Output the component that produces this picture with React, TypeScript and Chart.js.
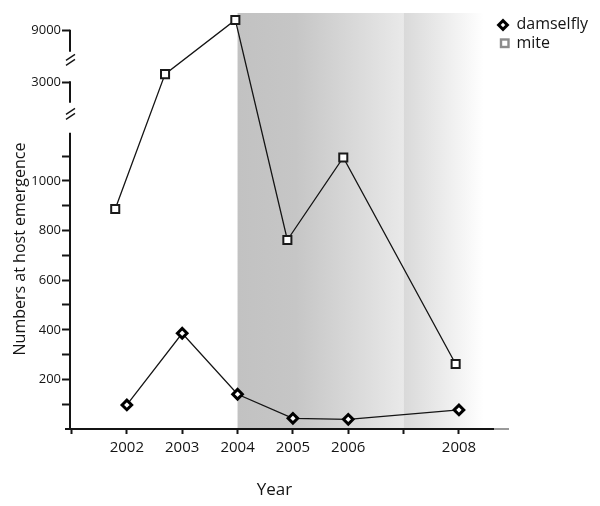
import React, { useEffect, useRef } from "react";
import { Chart, LinearScale, registerables } from "chart.js";

// ---- data ----
const DAMSELFLY_YEARS = [2002, 2003, 2004, 2005, 2006, 2008];
const DAMSELFLY_COUNTS = [97, 386, 140, 43, 39, 77];
const MITE_YEARS = [2001.79, 2002.69, 2003.96, 2004.9, 2005.91, 2007.94];
const MITE_COUNTS = [887, 3950, 10250, 762, 1095, 262];

const X_TICK_YEARS = [2001, 2002, 2003, 2004, 2005, 2006, 2007, 2008];
const X_TICK_LABELS = ["", "2002", "2003", "2004", "2005", "2006", "", "2008"];
const Y_TICK_VALUES = [100, 200, 300, 400, 500, 600, 700, 800, 900, 1000, 1100, 3000, 9000];
const Y_TICK_LABELS = ["", "200", "", "400", "", "600", "", "800", "", "1000", "", "3000", "9000"];

// broken y axis: value breakpoints and the share of plot height they reach
const Y_BREAK_VALUES = [0, 1200, 3000, 9000, 11060];
const Y_BREAK_FRACTIONS = [0, 0.7154, 0.8334, 0.9575, 1];
const Y_AXIS_SEGMENTS = [[0, 1190], [2290, 3000], [6670, 9000]];
const Y_BREAK_MARKS = [1840, 5600];

const X_MIN = 2000.973;
const X_MAX = 2008.904;
const SHADE_RANGES = [[2004, 2007], [2007, 2008.45]];
const SHADE_STOPS: [number, string][][] = [
  [[0, "#c2c2c2"], [0.35, "#c6c6c6"], [1, "#e9e9e9"]],
  [[0, "#d9d9d9"], [1, "#ffffff"]],
];

const FONT = "'Open Sans', sans-serif";
const INK = "#141414";

function valueToFraction(v: number): number {
  const n = Y_BREAK_VALUES.length;
  let i = 0;
  while (i < n - 2 && v > Y_BREAK_VALUES[i + 1]) i++;
  const v0 = Y_BREAK_VALUES[i], v1 = Y_BREAK_VALUES[i + 1];
  const f0 = Y_BREAK_FRACTIONS[i], f1 = Y_BREAK_FRACTIONS[i + 1];
  return f0 + ((v - v0) / (v1 - v0)) * (f1 - f0);
}
function fractionToValue(f: number): number {
  const n = Y_BREAK_FRACTIONS.length;
  let i = 0;
  while (i < n - 2 && f > Y_BREAK_FRACTIONS[i + 1]) i++;
  const v0 = Y_BREAK_VALUES[i], v1 = Y_BREAK_VALUES[i + 1];
  const f0 = Y_BREAK_FRACTIONS[i], f1 = Y_BREAK_FRACTIONS[i + 1];
  return v0 + ((f - f0) / (f1 - f0)) * (v1 - v0);
}

class BrokenLinearScale extends (LinearScale as any) {
  static id = "brokenLinear";
  static defaults = (LinearScale as any).defaults;
  determineDataLimits() {
    (this as any).min = Y_BREAK_VALUES[0];
    (this as any).max = Y_BREAK_VALUES[Y_BREAK_VALUES.length - 1];
  }
  buildTicks() {
    (this as any).start = (this as any).min;
    (this as any).end = (this as any).max;
    return Y_TICK_VALUES.map((v) => ({ value: v }));
  }
  getPixelForValue(value: number) {
    if (value === null || value === undefined) return NaN;
    return (this as any).getPixelForDecimal(valueToFraction(value));
  }
  getValueForPixel(pixel: number) {
    return fractionToValue((this as any).getDecimalForPixel(pixel));
  }
}

Chart.register(...registerables, BrokenLinearScale as any);

const decorPlugin = {
  id: "decor",
  beforeDraw(chart: any) {
    const { ctx, chartArea, scales } = chart;
    const xs = scales.x;
    ctx.save();
    SHADE_RANGES.forEach(([a, b], i) => {
      const x0 = xs.getPixelForValue(a);
      const x1 = xs.getPixelForValue(b);
      const g = ctx.createLinearGradient(x0, 0, x1, 0);
      SHADE_STOPS[i].forEach(([o, c]) => g.addColorStop(o, c));
      ctx.fillStyle = g;
      ctx.fillRect(x0, chartArea.top, x1 - x0, chartArea.bottom - chartArea.top);
    });
    ctx.restore();
  },
  beforeDatasetsDraw(chart: any) {
    const { ctx, chartArea, scales } = chart;
    const ys = scales.y;
    const left = chartArea.left;
    ctx.save();
    ctx.strokeStyle = INK;
    ctx.lineWidth = 2;
    Y_AXIS_SEGMENTS.forEach(([a, b]) => {
      ctx.beginPath();
      ctx.moveTo(left, ys.getPixelForValue(a) + 1);
      ctx.lineTo(left, ys.getPixelForValue(b) - 1);
      ctx.stroke();
    });
    ctx.lineWidth = 1.4;
    Y_BREAK_MARKS.forEach((v) => {
      const y = ys.getPixelForValue(v);
      [-2.5, 2.5].forEach((d) => {
        ctx.beginPath();
        ctx.moveTo(left - 4, y + d + 3);
        ctx.lineTo(left + 5, y + d - 3);
        ctx.stroke();
      });
    });
    ctx.lineWidth = 2;
    const yb = chartArea.bottom;
    ctx.beginPath();
    ctx.moveTo(left - 5, yb);
    ctx.lineTo(chartArea.right - 15, yb);
    ctx.stroke();
    ctx.strokeStyle = "#9a9a9a";
    ctx.beginPath();
    ctx.moveTo(chartArea.right - 15, yb);
    ctx.lineTo(chartArea.right, yb);
    ctx.stroke();
    ctx.restore();
  },
  afterDraw(chart: any) {
    const { ctx } = chart;
    ctx.save();
    ctx.fillStyle = INK;
    ctx.font = `16px ${FONT}`;
    ctx.textAlign = "center";
    ctx.textBaseline = "middle";
    ctx.save();
    ctx.translate(20, 249);
    ctx.rotate(-Math.PI / 2);
    ctx.fillText("Numbers at host emergence", 0, 0);
    ctx.restore();
    ctx.font = `17px ${FONT}`;
    ctx.fillText("Year", 274.5, 490);

    // legend
    const dx = 503, dy = 25;
    ctx.fillStyle = "#000";
    ctx.beginPath();
    ctx.moveTo(dx - 6.5, dy);
    ctx.lineTo(dx, dy - 6.5);
    ctx.lineTo(dx + 6.5, dy);
    ctx.lineTo(dx, dy + 6.5);
    ctx.closePath();
    ctx.fill();
    ctx.fillStyle = "#fff";
    ctx.beginPath();
    ctx.moveTo(dx - 2.3, dy);
    ctx.lineTo(dx, dy - 2.3);
    ctx.lineTo(dx + 2.3, dy);
    ctx.lineTo(dx, dy + 2.3);
    ctx.closePath();
    ctx.fill();

    ctx.fillStyle = "#fff";
    ctx.fillRect(501, 39.5, 7.5, 7.5);
    ctx.strokeStyle = "#8c8c8c";
    ctx.lineWidth = 2.4;
    ctx.strokeRect(501, 39.5, 7.5, 7.5);

    ctx.fillStyle = INK;
    ctx.font = `16px ${FONT}`;
    ctx.textAlign = "left";
    ctx.textBaseline = "middle";
    ctx.fillText("damselfly", 516.5, 24);
    ctx.fillText("mite", 516.5, 43);
    ctx.restore();
  },
};

export default function App() {
  const ref = useRef<HTMLCanvasElement>(null);
  useEffect(() => {
    document.body.style.margin = "0";
    const canvas = ref.current!;
    const chart = new Chart(canvas, {
      type: "line",
      data: {
        datasets: [
          {
            label: "damselfly",
            data: DAMSELFLY_YEARS.map((x, i) => ({ x, y: DAMSELFLY_COUNTS[i] })),
            borderColor: INK,
            borderWidth: 1.3,
            pointStyle: "rectRot",
            pointRadius: 4.8,
            pointBorderWidth: 3,
            pointBorderColor: "#000",
            pointBackgroundColor: "#fff",
            tension: 0,
            clip: false,
          },
          {
            label: "mite",
            data: MITE_YEARS.map((x, i) => ({ x, y: MITE_COUNTS[i] })),
            borderColor: INK,
            borderWidth: 1.3,
            pointStyle: "rect",
            pointRadius: 5.7,
            pointBorderWidth: 2,
            pointBorderColor: "#1a1a1a",
            pointBackgroundColor: "#fff",
            tension: 0,
            clip: false,
          },
        ],
      } as any,
      options: {
        responsive: false,
        animation: false,
        events: [],
        layout: { padding: { top: 13, right: 91, bottom: 0, left: 0 } },
        plugins: {
          legend: { display: false },
          tooltip: { enabled: false },
          title: { display: false },
        },
        scales: {
          x: {
            type: "linear",
            min: X_MIN,
            max: X_MAX,
            afterFit: (s: any) => {
              s.height = 77;
            },
            afterBuildTicks: (s: any) => {
              s.ticks = X_TICK_YEARS.map((v) => ({ value: v }));
            },
            border: { display: false },
            grid: {
              drawOnChartArea: false,
              drawTicks: true,
              tickLength: 5,
              tickWidth: 2,
              tickColor: INK,
            },
            ticks: {
              padding: 5,
              color: INK,
              font: { family: FONT, size: 15 },
              maxRotation: 0,
              autoSkip: false,
              callback: (_v: any, i: number) => X_TICK_LABELS[i],
            },
          },
          y: {
            type: "brokenLinear",
            afterFit: (s: any) => {
              s.width = 70;
            },
            border: { display: false },
            grid: {
              drawOnChartArea: false,
              drawTicks: true,
              tickLength: 8,
              tickWidth: 2,
              tickColor: INK,
            },
            ticks: {
              padding: 1,
              color: INK,
              font: { family: FONT, size: 13 },
              autoSkip: false,
              callback: (_v: any, i: number) => Y_TICK_LABELS[i],
            },
          },
        } as any,
      },
      plugins: [decorPlugin],
    } as any);
    return () => chart.destroy();
  }, []);
  return (
    <div style={{ width: 600, height: 506 }}>
      <canvas ref={ref} width={600} height={506} style={{ display: "block" }} />
    </div>
  );
}
